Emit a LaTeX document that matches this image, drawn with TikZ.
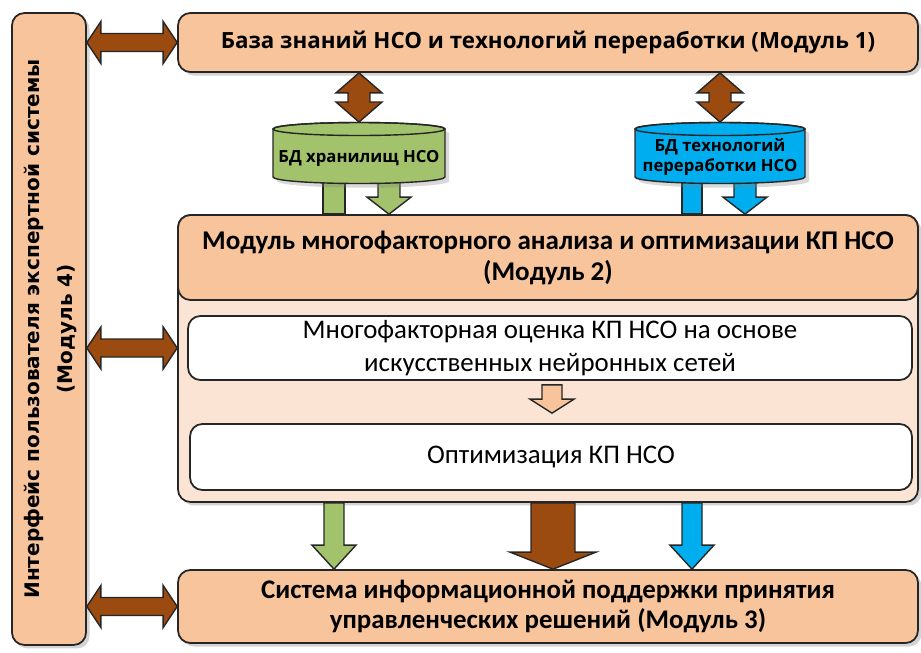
\documentclass[tikz,border=0pt]{standalone}
\usepackage{fontspec}
\setmainfont{Carlito}
\newfontfamily\osans{Open Sans}
\newfontfamily\dvsans{DejaVu Sans}
\usetikzlibrary{calc, shadows, positioning}

\definecolor{modorange}{HTML}{F7C49C}
\definecolor{modbody}{HTML}{FCE4D5}
\definecolor{linkbrown}{HTML}{9B4A10}
\definecolor{dbgreen}{HTML}{A2C26B}
\definecolor{dbblue}{HTML}{00AEEF}

\tikzset{
  modbox/.style={draw=black!85, line width=1pt, rounded corners=7pt, fill=modorange, align=center, inner sep=0pt},
  whitebox/.style={draw=black!85, line width=1pt, rounded corners=7pt, fill=white, align=center, inner sep=0pt, font=\fontsize{15.3}{18.5}\selectfont},
  fat/.style={draw=black!85, line width=0.8pt, line join=miter},
  softshadow/.style={drop shadow={opacity=0.35, shadow xshift=2pt, shadow yshift=-2pt}},
  dblabel/.style={font=\osans\bfseries\fontsize{9.5}{11.5}\selectfont, align=center},
}

% single fat arrow: from, to, half shaft, half head, head length, fill
\newcommand{\fatarrow}[6]{%
  \coordinate (fh) at ($(#2)!#5!(#1)$);
  \filldraw[fat, fill=#6] ($(#1)!#3!90:(#2)$) -- ($(fh)!#3!90:(#2)$) -- ($(fh)!#4!90:(#2)$) -- (#2)
    -- ($(fh)!#4!-90:(#2)$) -- ($(fh)!#3!-90:(#2)$) -- ($(#1)!#3!-90:(#2)$) -- cycle;
}
% double fat arrow, same arguments
\newcommand{\fatdarrow}[6]{%
  \coordinate (fa) at ($(#1)!#5!(#2)$);
  \coordinate (fb) at ($(#2)!#5!(#1)$);
  \filldraw[fat, fill=#6] (#1) -- ($(fa)!#4!90:(#2)$) -- ($(fa)!#3!90:(#2)$) -- ($(fb)!#3!90:(#2)$)
    -- ($(fb)!#4!90:(#2)$) -- (#2) -- ($(fb)!#4!-90:(#2)$) -- ($(fb)!#3!-90:(#2)$)
    -- ($(fa)!#3!-90:(#2)$) -- ($(fa)!#4!-90:(#2)$) -- cycle;
}

\begin{document}
\begin{tikzpicture}[x=0.02cm, y=-0.02cm]
    \useasboundingbox (0,0) rectangle (921,653);

    % Module 4: user interface
    \node[modbox, softshadow, minimum width=1.48cm, minimum height=12.64cm] (iface) at (49,329)
        {\rotatebox{90}{\dvsans\bfseries\fontsize{11.4}{18.8}\selectfont
         \begin{tabular}{@{}c@{}}Интерфейс пользователя экспертной системы\\(Модуль 4)\end{tabular}}};

    % Module 1
    \node[modbox, softshadow, minimum width=14.8cm, minimum height=1.18cm,
          font=\osans\bfseries\fontsize{12.7}{14}\selectfont] (mod1) at (548,42.5)
        {База знаний НСО и технологий переработки (Модуль 1)};

    % Module 3
    \node[modbox, softshadow, minimum width=14.8cm, minimum height=1.46cm,
          font=\bfseries\fontsize{15.3}{17.6}\selectfont] (mod3) at (548,606.5)
        {Система информационной поддержки принятия\\управленческих решений (Модуль 3)};

    % cylinder centres and bars
    \coordinate (gtop) at (359,129);
    \coordinate (btop) at (720,129);
    \coordinate (gcap) at (359,122);
    \coordinate (bcap) at (720,122);
    \coordinate (gbar) at (334,178);
    \coordinate (bbar) at (692,178);
    \coordinate (gout) at (389,178);
    \coordinate (bout) at (745,178);

    % links from module 1 to the databases
    \coordinate (g1) at (gcap |- mod1.south);
    \coordinate (b1) at (bcap |- mod1.south);
    \fatdarrow{g1}{gcap}{0.22cm}{0.46cm}{0.4cm}{linkbrown}
    \fatdarrow{b1}{bcap}{0.22cm}{0.46cm}{0.4cm}{linkbrown}

    % Module 2
    \node[modbox, softshadow, fill=modbody, minimum width=14.8cm, minimum height=5.74cm] (mod2) at (548,358.5) {};
    \node[modbox, minimum width=14.8cm, minimum height=1.7cm, anchor=north,
          font=\bfseries\fontsize{15.4}{17.6}\selectfont] (mod2h) at (mod2.north)
        {Модуль многофакторного анализа и оптимизации КП НСО\\(Модуль 2)};
    \node[whitebox, minimum width=14.48cm, minimum height=1.28cm] (eval) at (550,348)
        {Многофакторная оценка КП НСО на основе\\искусственных нейронных сетей};
    \node[whitebox, minimum width=14.44cm, minimum height=1.32cm] (optim) at (551,457)
        {Оптимизация КП НСО};
    \coordinate (e1) at ($(eval.south)+(2,4)$);
    \coordinate (e2) at ($(optim.north)+(1,-10)$);
    \fatarrow{e1}{e2}{0.2cm}{0.44cm}{0.28cm}{modorange}

    % databases into module 2
    \coordinate (g2) at (gbar |- mod2.north);
    \coordinate (b2) at (bbar |- mod2.north);
    \filldraw[fat, fill=dbgreen] ($(gbar)+(-11,0)$) rectangle ($(g2)+(11,0)$);
    \filldraw[fat, fill=dbblue] ($(bbar)+(-10,0)$) rectangle ($(b2)+(10,0)$);
    \coordinate (g3) at (gout |- mod2.north);
    \coordinate (b3) at (bout |- mod2.north);
    \fatarrow{gout}{g3}{0.22cm}{0.44cm}{0.34cm}{dbgreen}
    \fatarrow{bout}{b3}{0.22cm}{0.44cm}{0.34cm}{dbblue}

    % database cylinders
    \draw[fat, fill=dbgreen, drop shadow={opacity=0.3}] ($(gtop)+(-86,0)$) -- ($(gtop)+(-86,48)$)
        arc[start angle=180, end angle=360, x radius=1.72cm, y radius=0.13cm]
        -- ($(gtop)+(86,0)$) arc[start angle=0, end angle=180, x radius=1.72cm, y radius=0.13cm] -- cycle;
    \draw[fat] (gtop) ellipse[x radius=1.72cm, y radius=0.13cm];
    \node[dblabel] (gdb) at (359,158) {БД хранилищ НСО};

    \draw[fat, fill=dbblue, drop shadow={opacity=0.3}] ($(btop)+(-85,0)$) -- ($(btop)+(-85,48)$)
        arc[start angle=180, end angle=360, x radius=1.7cm, y radius=0.13cm]
        -- ($(btop)+(85,0)$) arc[start angle=0, end angle=180, x radius=1.7cm, y radius=0.13cm] -- cycle;
    \draw[fat] (btop) ellipse[x radius=1.7cm, y radius=0.13cm];
    \node[dblabel] (bdb) at (720,157) {БД технологий\\переработки НСО};

    % module 2 into module 3
    \coordinate (g4) at (gbar |- mod2.south);
    \coordinate (g5) at (gbar |- mod3.north);
    \coordinate (b4) at (bbar |- mod2.south);
    \coordinate (b5) at (bbar |- mod3.north);
    \coordinate (c4) at ($(mod2.south)+(5,0)$);
    \coordinate (c5) at ($(mod3.north)+(5,0)$);
    \fatarrow{g4}{g5}{0.2cm}{0.44cm}{0.48cm}{dbgreen}
    \fatarrow{c4}{c5}{0.44cm}{0.86cm}{0.34cm}{linkbrown}
    \fatarrow{b4}{b5}{0.2cm}{0.44cm}{0.48cm}{dbblue}

    % links to the user interface
    \coordinate (i1) at (iface.east |- mod1.west);
    \coordinate (i2) at (iface.east |- eval.west);
    \coordinate (i3) at (iface.east |- mod3.west);
    \coordinate (m2) at (mod2.west |- eval.west);
    \fatdarrow{i1}{mod1.west}{0.18cm}{0.42cm}{0.28cm}{linkbrown}
    \fatdarrow{i2}{m2}{0.18cm}{0.42cm}{0.28cm}{linkbrown}
    \fatdarrow{i3}{mod3.west}{0.18cm}{0.42cm}{0.28cm}{linkbrown}
\end{tikzpicture}
\end{document}
